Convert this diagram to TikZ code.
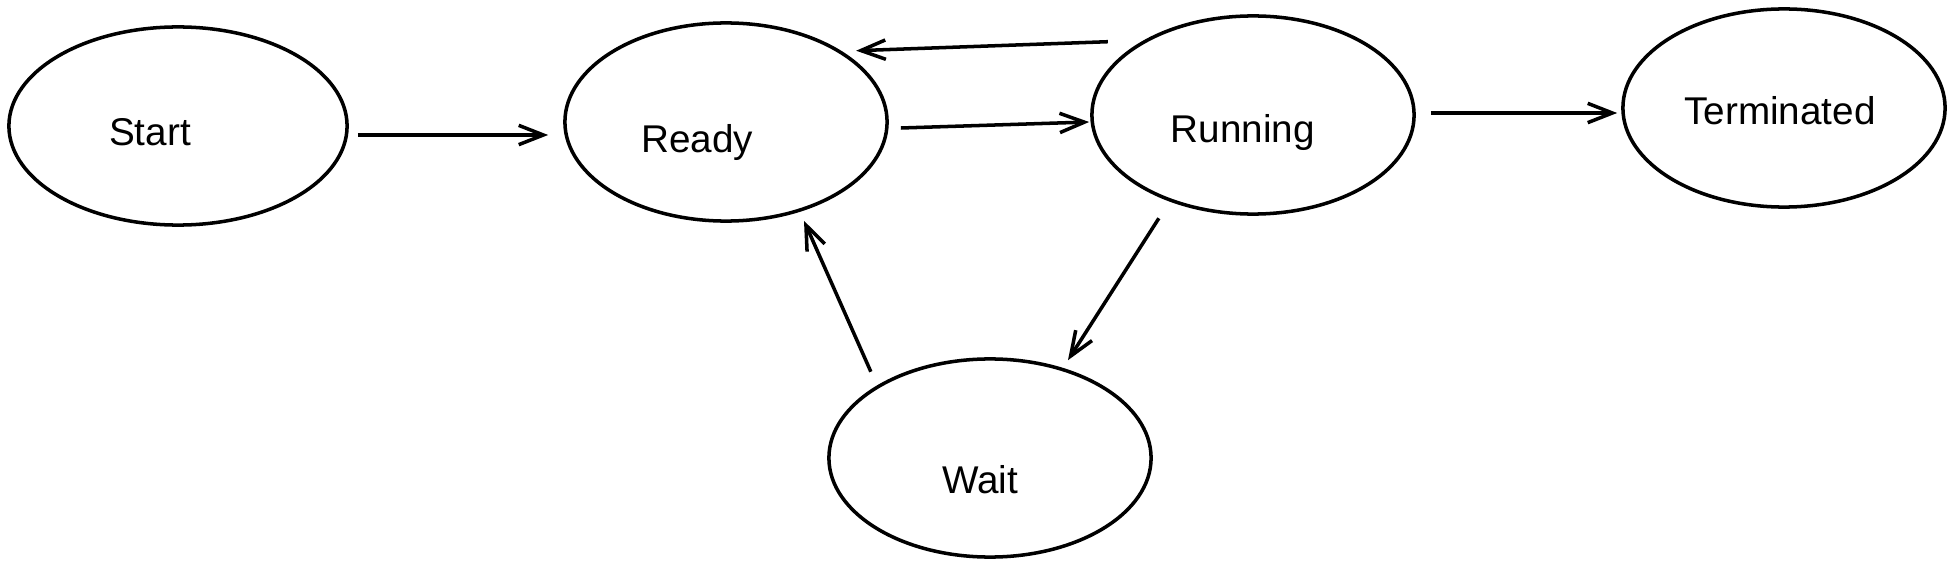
\documentclass[tikz,border=0pt]{standalone}
\usepackage{fontspec}
\setmainfont{Liberation Sans}
\usetikzlibrary{shapes.geometric,arrows.meta}

\tikzset{
    state/.style={ellipse,draw,line width=1pt,minimum width=3.22cm,minimum height=1.98cm,inner sep=0pt},
    lbl/.style={font=\fontsize{11}{13}\selectfont},
    edge/.style={line width=1pt,-{Straight Barb[length=7pt,width=5.5pt]}}
}

\begin{document}
\begin{tikzpicture}[x=0.01cm,y=-0.01cm]
            \useasboundingbox (0,0) rectangle (1954,567);

            \node[state,minimum width=3.38cm,label={[lbl,xshift=-0.28cm,yshift=-0.06cm]center:Start}] (start) at (178,126) {};
            \node[state,label={[lbl,xshift=-0.29cm,yshift=-0.20cm]center:Ready}] (ready) at (726,122) {};
            \node[state,label={[lbl,xshift=-0.10cm,yshift=-0.17cm]center:Running}] (running) at (1253,115) {};
            \node[state,label={[lbl,xshift=-0.04cm,yshift=-0.03cm]center:Terminated}] (term) at (1784,108) {};
            \node[state,label={[lbl,xshift=-0.10cm,yshift=-0.22cm]center:Wait}] (wait) at (990,458) {};

            \draw[edge] ([shift={(9,9)}]start.east) -- ([shift={(-15,13)}]ready.west);
            \draw[edge] ([shift={(12,6)}]ready.east) -- ([shift={(-1,7)}]running.west);
            % back to ready
            \draw[edge] ([shift={(-30,-2)}]running.north west) -- ([shift={(15,0)}]ready.north east);
            \draw[edge] ([shift={(15,-2)}]running.east) -- ([shift={(-4,5)}]term.west);
            \draw[edge] ([shift={(21,32)}]running.south west) -- ([shift={(78,3)}]wait.north);
            \draw[edge] ([shift={(-4,-15)}]wait.north west) -- ([shift={(78,-2)}]ready.south);
        \end{tikzpicture}
\end{document}
